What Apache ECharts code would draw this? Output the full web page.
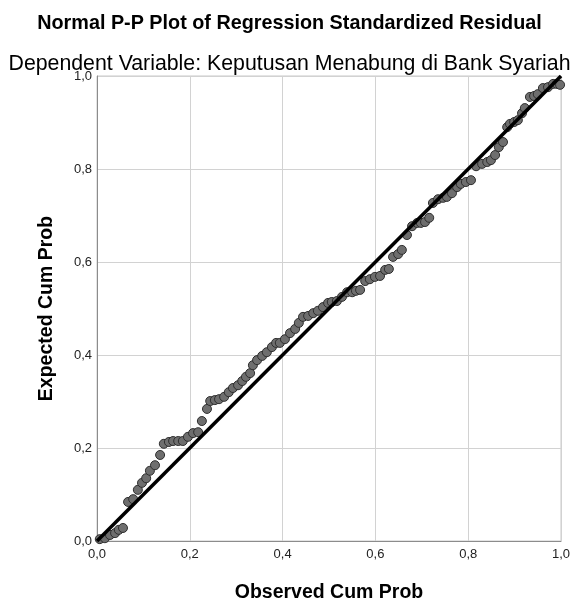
<!DOCTYPE html>
<html>
<head>
<meta charset="utf-8">
<script src="https://cdn.jsdelivr.net/npm/echarts@6/dist/echarts.min.js"></script>
<style>
html,body{margin:0;padding:0;background:#fff;}
#chart{width:579px;height:602px;}
</style>
</head>
<body>
<div id="chart"></div>
<script>
var titleText = "Normal P-P Plot of Regression Standardized Residual";
var subtitleText = "Dependent Variable: Keputusan Menabung di Bank Syariah";
var xAxisName = "Observed Cum Prob";
var yAxisName = "Expected Cum Prob";

var observedCumProb = [0.006,0.017,0.028,0.039,0.047,0.056,0.067,0.078,0.088,0.097,0.106,0.114,0.125,0.136,0.144,0.155,0.164,0.175,0.185,0.196,0.207,0.218,0.226,0.237,0.244,0.254,0.263,0.274,0.284,0.293,0.304,0.313,0.321,0.330,0.336,0.345,0.356,0.366,0.377,0.386,0.394,0.405,0.416,0.427,0.435,0.444,0.455,0.466,0.476,0.487,0.498,0.506,0.517,0.528,0.539,0.550,0.558,0.567,0.578,0.588,0.599,0.610,0.621,0.629,0.638,0.649,0.657,0.668,0.679,0.690,0.698,0.707,0.716,0.724,0.735,0.746,0.754,0.765,0.776,0.784,0.795,0.806,0.817,0.830,0.841,0.849,0.858,0.866,0.875,0.884,0.890,0.899,0.907,0.916,0.922,0.933,0.942,0.950,0.961,0.972,0.983,0.991,0.998];
var expectedCumProb = [0.004,0.006,0.013,0.017,0.024,0.028,0.084,0.090,0.110,0.125,0.135,0.151,0.163,0.185,0.209,0.213,0.215,0.215,0.215,0.224,0.232,0.234,0.258,0.284,0.301,0.303,0.305,0.310,0.320,0.329,0.335,0.344,0.353,0.361,0.378,0.389,0.398,0.406,0.417,0.426,0.426,0.434,0.447,0.456,0.469,0.482,0.484,0.490,0.495,0.503,0.512,0.514,0.516,0.525,0.535,0.535,0.538,0.540,0.559,0.563,0.568,0.570,0.583,0.585,0.611,0.617,0.626,0.658,0.677,0.684,0.684,0.686,0.695,0.727,0.735,0.738,0.740,0.748,0.761,0.768,0.772,0.776,0.806,0.811,0.815,0.819,0.830,0.847,0.858,0.890,0.897,0.901,0.905,0.920,0.931,0.955,0.957,0.961,0.974,0.976,0.983,0.983,0.981];
var referenceLineX = [0, 1];
var referenceLineY = [0, 1];

var points = observedCumProb.map(function (x, i) { return [x, expectedCumProb[i]]; });
var linePts = referenceLineX.map(function (x, i) { return [x, referenceLineY[i]]; });

function fmt(v) { return v.toFixed(1).replace('.', ','); }

var chart = echarts.init(document.getElementById('chart'), null, {renderer: 'canvas'});
var FONT = 'Liberation Sans, Arial, sans-serif';
chart.setOption({
  backgroundColor: '#ffffff',
  animation: false,
  title: [
    {text: titleText, left: 'center', top: 9,
     textStyle: {fontFamily: FONT, fontSize: 19.8, fontWeight: 'bold', color: '#000'}},
    {text: subtitleText, left: 'center', top: 49,
     textStyle: {fontFamily: FONT, fontSize: 21.3, fontWeight: 'normal', color: '#000'}}
  ],
  grid: {left: 97, right: 18, top: 76, bottom: 61, show: true, borderColor: '#c8c8c8', borderWidth: 1,
         backgroundColor: '#fff', containLabel: false, outerBoundsMode: 'none'},
  xAxis: {
    type: 'value', min: 0, max: 1, interval: 0.2,
    name: xAxisName, nameLocation: 'middle', nameGap: 42,
    nameTextStyle: {fontFamily: FONT, fontSize: 19.5, fontWeight: 'bold', color: '#000'},
    axisLine: {show: true, lineStyle: {color: '#8c8c8c', width: 1}},
    axisTick: {show: false},
    splitLine: {show: true, lineStyle: {color: '#d2d2d2', width: 1}},
    axisLabel: {formatter: fmt, fontFamily: FONT, fontSize: 13, color: '#222', margin: 7}
  },
  yAxis: {
    type: 'value', min: 0, max: 1, interval: 0.2,
    name: yAxisName, nameLocation: 'middle', nameGap: 40,
    nameTextStyle: {fontFamily: FONT, fontSize: 19.5, fontWeight: 'bold', color: '#000'},
    axisLine: {show: true, lineStyle: {color: '#8c8c8c', width: 1}},
    axisTick: {show: false},
    splitLine: {show: true, lineStyle: {color: '#d2d2d2', width: 1}},
    axisLabel: {formatter: fmt, fontFamily: FONT, fontSize: 13, color: '#222', margin: 5}
  },
  series: [
    {type: 'scatter', data: points, symbol: 'circle', symbolSize: 9, z: 2,
     itemStyle: {color: '#6e6e6e', borderColor: '#2e2e2e', borderWidth: 1, opacity: 1}},
    {type: 'line', data: linePts, symbol: 'none', z: 3,
     lineStyle: {color: '#000', width: 3.5}}
  ]
});
</script>
</body>
</html>
